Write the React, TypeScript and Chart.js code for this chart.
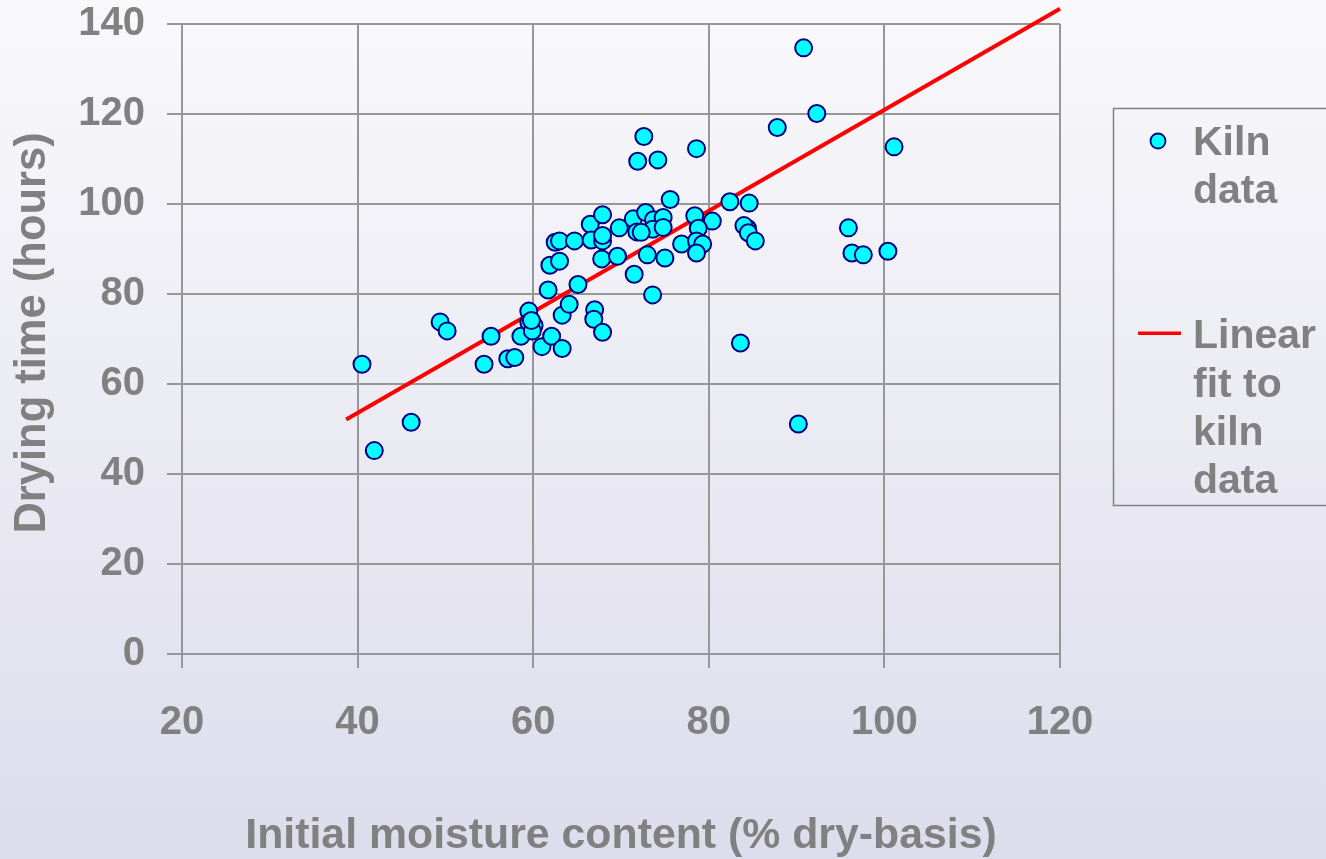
import React, { useEffect, useRef } from "react";
import { Chart, registerables } from "chart.js";
Chart.register(...registerables);

// ---- data ----
const moisture = [
  40.5, 41.9, 46.1, 49.4, 50.2, 54.4, 55.2, 57.1, 57.9, 58.6,
  59.5, 59.5, 60.1, 59.9, 59.8, 61.0, 62.1, 63.3, 61.7, 63.3,
  64.1, 65.1, 62.5, 63.0, 64.7, 61.9, 63.0, 67.0, 66.9, 67.9,
  66.5, 67.9, 66.6, 67.9, 67.9, 67.8, 69.6, 69.8, 71.4, 71.8,
  72.8, 73.7, 74.8, 73.6, 74.8, 72.3, 73.0, 75.0, 71.5, 73.6,
  76.9, 75.6, 82.4, 84.6, 78.4, 80.4, 78.8, 78.6, 79.3, 78.6,
  83.6, 84.4, 84.0, 84.5, 85.3, 72.6, 71.9, 74.2, 78.6, 87.8,
  90.8, 92.3, 101.1, 95.9, 96.3, 97.6, 100.4, 90.2,
];
const dryingTime = [
  64.4, 45.2, 51.5, 73.8, 71.8, 64.4, 70.6, 65.6, 65.9, 70.6,
  76.2, 73.7, 73.0, 71.8, 74.1, 68.3, 70.6, 67.9, 80.9, 75.3,
  77.7, 82.1, 91.5, 91.8, 91.8, 86.4, 87.3, 76.5, 74.4, 71.5,
  95.5, 97.6, 92.0, 91.8, 93.0, 87.8, 88.4, 94.7, 96.7, 93.8,
  98.1, 96.5, 97.0, 94.4, 94.8, 93.7, 88.7, 88.0, 84.4, 79.8,
  91.1, 101.0, 100.5, 100.2, 97.4, 96.2, 94.6, 91.8, 91.1, 89.1,
  69.1, 94.6, 95.2, 93.6, 91.8, 115.0, 109.5, 109.8, 112.3, 117.0,
  134.7, 120.1, 112.7, 94.7, 89.1, 88.7, 89.5, 51.1,
];
const fitX = [38.7, 120];
const fitY = [52.1, 143.4];
const xTicks = [20, 40, 60, 80, 100, 120];
const yTicks = [0, 20, 40, 60, 80, 100, 120, 140];
const seriesNames = ["Kiln data", "Linear fit to kiln data"];
const legendLines = [["Kiln", "data"], ["Linear", "fit to", "kiln", "data"]];
const legendLineStart = [0, 4];
const xTitle = "Initial moisture content (% dry-basis)";
const yTitle = " Drying time (hours)";

// ---- style ----
const FONT = "'Liberation Sans', Arial, sans-serif";
const GREY = "#808080";
const GRID = "#979797";
const W = 1326;
const H = 859;

const legendPlugin = {
  id: "sideLegend",
  afterDraw(chart: any) {
    const ctx = chart.ctx;
    const right = chart.chartArea.right;
    const bx = right + 53.5;
    const by = 108.5;
    ctx.save();
    ctx.strokeStyle = GREY;
    ctx.lineWidth = 1.5;
    ctx.strokeRect(bx, by, 300, 397);
    ctx.font = `bold 41px ${FONT}`;
    ctx.fillStyle = GREY;
    ctx.textBaseline = "alphabetic";
    ctx.textAlign = "left";
    const lh = 48.3;
    const base0 = by + 46.5;
    chart.data.datasets.forEach((ds: any, i: number) => {
      const lines = legendLines[i];
      const b = base0 + legendLineStart[i] * lh;
      const my = b - 15;
      if (ds.showLine) {
        ctx.strokeStyle = ds.borderColor;
        ctx.lineWidth = 3.5;
        ctx.beginPath();
        ctx.moveTo(bx + 24.5, my);
        ctx.lineTo(bx + 67.5, my);
        ctx.stroke();
      } else {
        ctx.beginPath();
        ctx.arc(bx + 44.5, my + 1, 7.5, 0, Math.PI * 2);
        ctx.fillStyle = ds.pointBackgroundColor;
        ctx.fill();
        ctx.strokeStyle = ds.pointBorderColor;
        ctx.lineWidth = 1.8;
        ctx.stroke();
      }
      ctx.fillStyle = GREY;
      lines.forEach((t: string, k: number) => {
        ctx.fillText(t, bx + 79.5, b + k * lh);
      });
    });
    ctx.restore();
  },
};

export default function App() {
  const ref = useRef<HTMLCanvasElement | null>(null);
  useEffect(() => {
    if (!ref.current) return;
    const chart = new Chart(ref.current, {
      type: "scatter",
      data: {
        datasets: [
          {
            label: seriesNames[0],
            data: moisture.map((x, i) => ({ x, y: dryingTime[i] })),
            pointRadius: 8.5,
            pointBorderWidth: 2,
            pointBackgroundColor: "#00ffff",
            pointBorderColor: "#000080",
            showLine: false,
            order: 0,
          },
          {
            label: seriesNames[1],
            data: fitX.map((x, i) => ({ x, y: fitY[i] })),
            showLine: true,
            borderColor: "#ff0000",
            borderWidth: 4,
            pointRadius: 0,
            clip: false,
            order: 1,
          } as any,
        ],
      },
      options: {
        responsive: false,
        animation: false,
        events: [],
        layout: { padding: { top: 24, right: W - 1060, left: 0, bottom: 0 } },
        plugins: { legend: { display: false }, tooltip: { enabled: false } },
        scales: {
          x: {
            type: "linear",
            min: 20,
            max: 120,
            afterBuildTicks: (s: any) => {
              s.ticks = xTicks.map((v) => ({ value: v }));
            },
            afterFit: (s: any) => {
              s.height = H - 654;
              s.paddingLeft = 0;
              s.paddingRight = 0;
            },
            grid: { color: GRID, lineWidth: 2, tickLength: 14, drawTicks: true },
            border: { color: GRID, width: 2 },
            ticks: {
              font: { family: FONT, size: 40, weight: "bold" },
              color: GREY,
              padding: 31,
              maxRotation: 0,
              autoSkip: false,
            },
            title: {
              display: true,
              text: xTitle,
              color: GREY,
              font: { family: FONT, size: 42.8, weight: "bold", lineHeight: 1.05 },
              padding: { top: 0, bottom: 0 },
            },
          },
          y: {
            type: "linear",
            min: 0,
            max: 140,
            afterBuildTicks: (s: any) => {
              s.ticks = yTicks.map((v) => ({ value: v }));
            },
            afterFit: (s: any) => {
              s.width = 182;
              s.paddingTop = 0;
              s.paddingBottom = 0;
            },
            grid: { color: GRID, lineWidth: 2, tickLength: 15, drawTicks: true },
            border: { color: GRID, width: 2 },
            ticks: {
              font: { family: FONT, size: 40, weight: "bold" },
              color: GREY,
              padding: 22,
              autoSkip: false,
            },
            title: {
              display: true,
              text: yTitle,
              color: GREY,
              font: { family: FONT, size: 43.5, weight: "bold" },
              padding: { top: 7, bottom: 0 },
            },
          },
        },
      } as any,
      plugins: [legendPlugin],
    });
    return () => chart.destroy();
  }, []);

  return (
    <div
      style={{
        position: "fixed",
        left: 0,
        top: 0,
        width: W,
        height: H,
        background: "linear-gradient(to bottom, #f9f9fb 0%, #dddcec 100%)",
      }}
    >
      <canvas ref={ref} width={W} height={H} style={{ display: "block", width: W, height: H }} />
    </div>
  );
}
